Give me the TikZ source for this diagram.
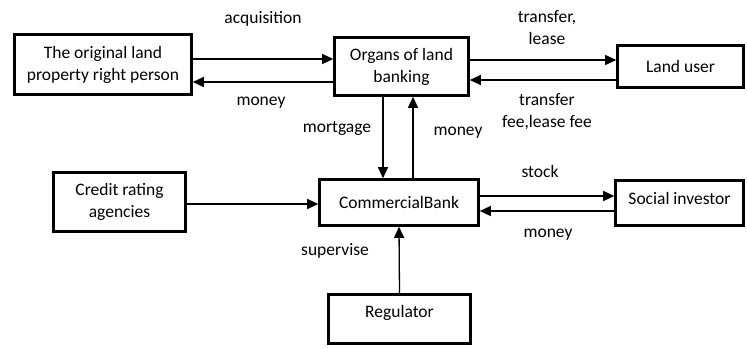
\documentclass[tikz,border=0pt]{standalone}
\usepackage{fontspec}
\setmainfont{Carlito}
\usetikzlibrary{arrows.meta}
\begin{document}
\begin{tikzpicture}[x=1pt,y=-1pt,
  box/.style={draw,line width=2.6pt,inner sep=0pt,align=center,font=\fontsize{17.5}{22}\selectfont},
  lbl/.style={inner sep=0pt,align=center,font=\fontsize{17.5}{22}\selectfont},
  arr/.style={line width=1.3pt,-{Triangle[length=11pt,width=10pt]}}]
\useasboundingbox (0,0) rectangle (747,348);
\node[box,minimum width=177pt,minimum height=60pt] (orig) at (103,64.5) {The original land\\property right person};
\node[box,minimum width=134pt,minimum height=58pt] (organ) at (401.5,66.5) {Organs of land\\banking};
\node[box,minimum width=126pt,minimum height=42pt] (user) at (680.5,66.5) {Land user};
\node[box,minimum width=132pt,minimum height=59pt] (credit) at (119.5,202) {Credit rating\\agencies};
\node[box,minimum width=159pt,minimum height=46pt] (bank) at (399,202.5) {CommercialBank};
\node[box,minimum width=128pt,text height=24pt,text depth=21pt] (investor) at (679.5,203) {Social investor};
\node[box,minimum width=142pt,text height=23pt,text depth=26pt] (reg) at (399.5,319) {Regulator};
% top row
\draw[arr] (orig.east |- 0,59) -- (organ.west |- 0,59);
\draw[arr] (organ.west |- 0,82) -- (orig.east |- 0,82);
\draw[arr] (organ.east |- 0,60) -- (user.west |- 0,60);
\draw[arr] (user.west |- 0,80) -- (organ.east |- 0,80);
% bank
\draw[arr] (organ.south -| 383,0) -- (bank.north -| 383,0);
\draw[arr] (bank.north -| 413,0) -- (organ.south -| 413,0);
\draw[arr] (credit.east |- 0,204) -- (bank.west |- 0,204);
\draw[arr] (bank.east |- 0,196) -- (investor.west |- 0,196);
\draw[arr] (investor.west |- 0,211) -- (bank.east |- 0,211);
\draw[arr] (reg.north) -- (bank.south);
% labels
\node[lbl] (tacq) at (263,19) {acquisition};
\node[lbl] (tmon1) at (261,103) {money};
\node[lbl] (ttr) at (547,28) {transfer,\\lease};
\node[lbl] (tfee) at (547,112) {transfer\\fee,lease fee};
\node[lbl] (tmort) at (337,128) {mortgage};
\node[lbl] (tmon2) at (458,133) {money};
\node[lbl] (tstock) at (540,171) {stock};
\node[lbl] (tmon3) at (548,235) {money};
\node[lbl] (tsup) at (335,251) {supervise};
\end{tikzpicture}
\end{document}
